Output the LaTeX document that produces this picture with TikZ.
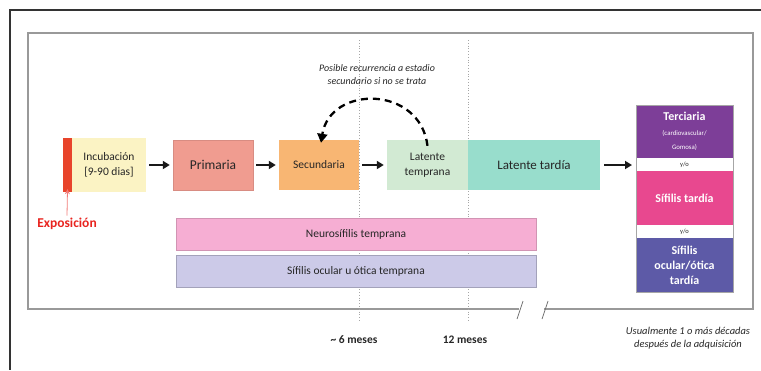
\documentclass[tikz,border=0pt]{standalone}
\usepackage{fontspec}
\setmainfont{Carlito}
\usetikzlibrary{arrows.meta}
\definecolor{cInc}{HTML}{FBF3C4}
\definecolor{cRed}{HTML}{E8442B}
\definecolor{cPri}{HTML}{F09C90}
\definecolor{cSec}{HTML}{F8B673}
\definecolor{cLtT}{HTML}{D2EAD3}
\definecolor{cLtD}{HTML}{98DDCC}
\definecolor{cTer}{HTML}{7D3E98}
\definecolor{cSTa}{HTML}{E8488F}
\definecolor{cOcu}{HTML}{5D5AA7}
\definecolor{cNeu}{HTML}{F6AED3}
\definecolor{cOcT}{HTML}{CCCAE8}
\definecolor{cExp}{HTML}{E8241F}
\tikzset{
  fsz/.style={font=\fontsize{#1}{#1}\selectfont},
  fszb/.style={font=\fontsize{#1}{#1}\selectfont\bfseries},
  fszi/.style={font=\fontsize{#1}{#1}\selectfont\itshape},
  stagebox/.style={rectangle, inner sep=0pt, align=center, text=black!85},
  flowarrow/.style={-{Triangle[length=7pt,width=8pt]}, line width=2.2pt, black!90},
  guide/.style={black!35, dotted, line width=0.8pt},
}
\begin{document}
\begin{tikzpicture}[x=1pt,y=-1pt]
\useasboundingbox (0,0) rectangle (761,370);
% outer frame
\draw[black!80, line width=1.3pt] (761,10) -- (10,10) -- (10,370);
% inner frame with break
\draw[black!40, line width=1.5pt] (519,309) -- (28,309) -- (28,33) -- (753,33) -- (753,309) -- (544,309);
\draw[black!55, line width=0.8pt] (517,319) -- (523,301);
\draw[black!55, line width=0.8pt] (542,319) -- (548,301);
% guide lines
\draw[guide] (359,40) -- (359,322);
\draw[guide] (468,40) -- (468,322);
% boxes
\node[stagebox, fill=cRed, minimum width=9pt, minimum height=54pt] (bar) at (67.5,165) {};
\node[stagebox, fill=cInc, minimum width=74pt, minimum height=54pt, fsz=11.5] (inc) at (109,165) {Incubación\\[3pt]{[9-90 dias]}};
\node[stagebox, fill=cPri, draw=cPri!90!black, line width=0.4pt, minimum width=80pt, minimum height=50pt, fsz=13.5] (pri) at (213,165) {Primaria};
\node[stagebox, fill=cSec, minimum width=80pt, minimum height=50pt, fsz=11.5] (sec) at (319,165) {Secundaria};
\node[stagebox, fill=cLtT, minimum width=81pt, minimum height=50pt, fsz=11.5] (lte) at (427.5,165) {Latente\\[3pt]temprana};
\node[stagebox, fill=cLtD, minimum width=132pt, minimum height=50pt, fsz=13] (ltd) at (534,165) {Latente tardía};
% right column
\node[stagebox, fill=cTer, text=white, minimum width=97pt, minimum height=53pt] (ter) at (684.5,131.5) {\fontsize{12}{12}\selectfont\bfseries Terciaria\\[3pt]\fontsize{6.8}{6.8}\selectfont (cardiovascular/\\[1.5pt]\fontsize{6.8}{6.8}\selectfont Gomosa)};
\node[stagebox, fill=white, minimum width=97pt, minimum height=13pt, fsz=6.5] (yo1) at (684.5,164.5) {y/o};
\node[stagebox, fill=cSTa, text=white, minimum width=97pt, minimum height=54pt, fszb=12] (sta) at (684.5,198) {Sífilis tardía};
\node[stagebox, fill=white, minimum width=97pt, minimum height=13pt, fsz=6.5] (yo2) at (684.5,231.5) {y/o};
\node[stagebox, fill=cOcu, text=white, minimum width=97pt, minimum height=54pt, fszb=12] (ocu) at (684.5,265) {Sífilis\\[3pt]ocular/ótica\\[3pt]tardía};
\draw[black!35, line width=0.6pt] (ter.north west) rectangle (ocu.south east);
% bars
\node[stagebox, fill=cNeu, draw=cNeu!85!black, line width=0.4pt, minimum width=360pt, minimum height=32pt, fsz=11.5] (neu) at (356,234) {Neurosífilis temprana};
\node[stagebox, fill=cOcT, draw=cOcT!80!black, line width=0.4pt, minimum width=360pt, minimum height=32pt, fsz=11.5] (oct) at (356,271) {Sífilis ocular u ótica temprana};
% arrows
\draw[flowarrow] ([xshift=3pt]inc.east) -- ([xshift=-3pt]pri.west);
\draw[flowarrow] ([xshift=3pt]pri.east) -- ([xshift=-3pt]sec.west);
\draw[flowarrow] ([xshift=3pt]sec.east) -- ([xshift=-3pt]lte.west);
\coordinate (colin) at (632,165);
\draw[flowarrow] ([xshift=4pt]ltd.east) -- (colin);
% recurrence arc
\draw[dashed, dash pattern=on 7pt off 5pt, line width=2.3pt, -{Triangle[length=9pt,width=10pt]}]
  ([yshift=-6pt]lte.north) .. controls (420,85) and (330,85) .. ([xshift=2pt,yshift=-3pt]sec.north);
\node[fszi=10, align=center, text=black!85] (rec) at (377,75) {Posible recurrencia a estadio\\[3pt]secundario si no se trata};
% exposure
\node[fszb=13.5, text=cExp] (exp) at (67,224) {Exposición};
\draw[-{Stealth[length=5pt,width=5pt]}, line width=0.8pt, cExp!60!white] ([yshift=-1pt]exp.north) -- ([yshift=3pt]bar.south);
% bottom labels
\node[fszb=11.5, text=black!85] (m6) at (354,340) {\textasciitilde{} 6 meses};
\node[fszb=11.5, text=black!85] (m12) at (465,340) {12 meses};
\node[fszi=10.5, align=center, text=black!85] (dec) at (688,338) {Usualmente 1 o más décadas\\[3pt]después de la adquisición};
\end{tikzpicture}
\end{document}
